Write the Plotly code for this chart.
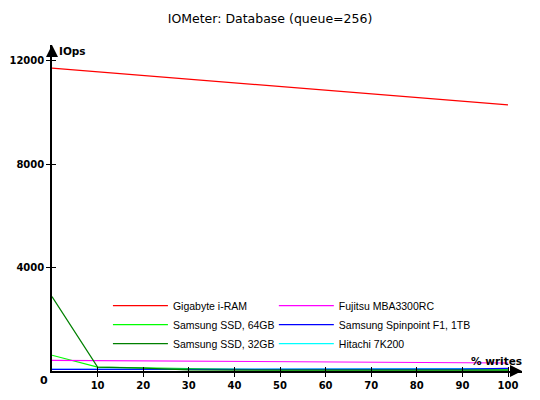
import plotly.graph_objects as go

writes = [0, 10, 20, 30, 40, 50, 60, 70, 80, 90, 100]

gigabyte = [11720, 11580, 11440, 11300, 11160, 11010, 10870, 10730, 10590, 10440, 10300]
fujitsu = [415, 405, 395, 385, 370, 360, 350, 340, 330, 320, 310]
ssd64 = [610, 150, 125, 80, 60, 45, 40, 40, 40, 40, 40]
spinpoint = [65, 65, 65, 65, 65, 65, 65, 65, 65, 70, 105]
ssd32 = [2880, 150, 110, 40, 35, 35, 30, 30, 30, 30, 30]
hitachi = [62, 62, 62, 62, 62, 62, 62, 62, 62, 65, 90]

# (name, values, colour, legend, rank in legend); drawn in list order
series = [
    ("Hitachi 7K200", hitachi, "#00ffff", "legend2", 3),
    ("Gigabyte i-RAM", gigabyte, "#ff0000", "legend", 1),
    ("Samsung SSD, 64GB", ssd64, "#00ff00", "legend", 2),
    ("Fujitsu MBA3300RC", fujitsu, "#ff00ff", "legend2", 1),
    ("Samsung Spinpoint F1, 1TB", spinpoint, "#0000ff", "legend2", 2),
    ("Samsung SSD, 32GB", ssd32, "#008000", "legend", 3),
]

x_ticks = [10, 20, 30, 40, 50, 60, 70, 80, 90, 100]
y_ticks = [4000, 8000, 12000]
y_tick_text = ["4000", "8000", "12000"]

fig = go.Figure()
for name, vals, col, lg, rank in series:
    fig.add_trace(go.Scatter(x=writes, y=vals, mode="lines", name=name, legend=lg,
                             legendrank=rank, line=dict(color=col, width=1.2)))

tickfont = dict(family="DejaVu Sans", size=10, color="black", weight="bold")
legfont = dict(family="Liberation Sans", size=10.5, color="black")
fig.update_layout(
    width=540, height=400,
    margin=dict(l=52, r=18, t=45, b=29, autoexpand=False),
    plot_bgcolor="white", paper_bgcolor="white",
    title=dict(text="IOMeter: Database (queue=256)", x=0.5, xanchor="center",
               y=0.953, yanchor="middle",
               font=dict(family="DejaVu Sans", size=12.5, color="black")),
    xaxis=dict(range=[0, 103.07], tickvals=x_ticks, ticks="outside", ticklen=4,
               tickcolor="black", showline=True, linecolor="black", linewidth=1.5,
               showgrid=False, zeroline=False, tickfont=tickfont),
    yaxis=dict(range=[0, 12619], tickvals=y_ticks, ticktext=y_tick_text,
               ticks="outside", ticklen=4,
               tickcolor="black", showline=True, linecolor="black", linewidth=1.5,
               showgrid=False, zeroline=False, tickfont=tickfont),
    xaxis2=dict(range=[0, 103.07], tickvals=x_ticks, ticks="inside", ticklen=4,
                tickcolor="black", showticklabels=False, overlaying="x",
                showgrid=False, zeroline=False),
    yaxis2=dict(range=[0, 12619], tickvals=y_ticks, ticks="inside", ticklen=4,
                tickcolor="black", showticklabels=False, overlaying="y",
                showgrid=False, zeroline=False),
    showlegend=True,
    legend=dict(orientation="v", x=0.119, y=0.245, xanchor="left", yanchor="top",
                bgcolor="rgba(0,0,0,0)", font=legfont, itemwidth=55,
                tracegroupgap=0),
    legend2=dict(orientation="v", x=0.472, y=0.245, xanchor="left", yanchor="top",
                 bgcolor="rgba(0,0,0,0)", font=legfont, itemwidth=55,
                 tracegroupgap=0),
)
fig.add_trace(go.Scatter(x=[0], y=[0], xaxis="x2", yaxis="y2", mode="markers",
                         marker=dict(opacity=0), showlegend=False, hoverinfo="skip"))

fig.add_annotation(xref="paper", yref="paper", x=0, y=1.0, ax=0, ay=12,
                   showarrow=True, arrowhead=2, arrowsize=1.6, arrowwidth=1.5,
                   arrowcolor="black", text="")
fig.add_annotation(xref="paper", yref="paper", x=1.0, y=0, ax=-12, ay=0,
                   showarrow=True, arrowhead=2, arrowsize=1.6, arrowwidth=1.5,
                   arrowcolor="black", text="")
fig.add_annotation(xref="paper", yref="paper", x=0, y=1.0, xshift=5, yshift=-6,
                   xanchor="left", yanchor="middle", showarrow=False,
                   text="<b>IOps</b>", font=dict(family="DejaVu Sans", size=10.5, color="black"))
fig.add_annotation(xref="paper", yref="paper", x=1.0, y=0, xshift=2, yshift=10,
                   xanchor="right", yanchor="middle", showarrow=False,
                   text="<b>% writes</b>", font=dict(family="DejaVu Sans", size=10.5, color="black"))
fig.add_annotation(xref="paper", yref="paper", x=0, y=0, xshift=-2, yshift=-9,
                   xanchor="right", yanchor="middle", showarrow=False,
                   text="<b>0</b>", font=dict(family="DejaVu Sans", size=11, color="black"))

fig.write_html("out.html", post_script="document.body.style.margin='0';",
               config={"displayModeBar": False})
